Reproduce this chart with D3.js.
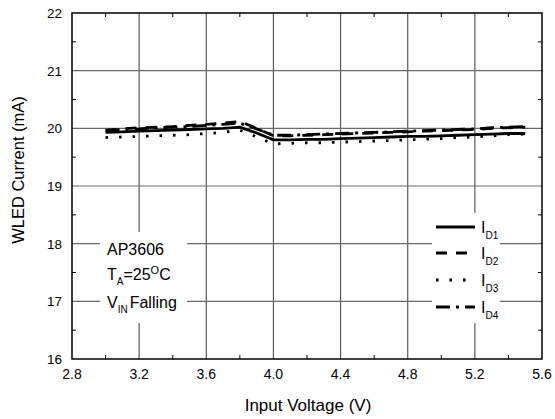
<!DOCTYPE html>
<html>
<head>
<meta charset="utf-8">
<script src="https://cdn.jsdelivr.net/npm/d3@7"></script>
<style>
  body { margin: 0; background: #fff; }
  text { font-family: "Liberation Sans", Arial, sans-serif; }
</style>
</head>
<body>
<div id="chart"></div>
<script>
// data
var vin = [3.0, 3.1, 3.2, 3.3, 3.4, 3.5, 3.6, 3.7, 3.8, 3.9, 4.0, 4.1, 4.2,
           4.3, 4.4, 4.5, 4.6, 4.7, 4.8, 4.9, 5.0, 5.1, 5.2, 5.3, 5.4, 5.5];
var id1 = [19.93, 19.94, 19.95, 19.96, 19.97, 19.98, 19.99, 20.00, 20.02, 19.92, 19.80, 19.80, 19.81,
           19.81, 19.82, 19.83, 19.84, 19.85, 19.86, 19.86, 19.87, 19.88, 19.89, 19.90, 19.91, 19.91];
var id2 = [19.97, 19.99, 20.01, 20.02, 20.03, 20.05, 20.07, 20.09, 20.12, 20.00, 19.87, 19.87, 19.88,
           19.89, 19.90, 19.91, 19.92, 19.93, 19.94, 19.95, 19.96, 19.97, 19.98, 20.00, 20.01, 20.02];
var id3 = [19.84, 19.85, 19.86, 19.87, 19.88, 19.89, 19.91, 19.93, 19.97, 19.85, 19.73, 19.74, 19.75,
           19.75, 19.76, 19.77, 19.78, 19.79, 19.80, 19.81, 19.82, 19.84, 19.85, 19.87, 19.89, 19.90];
var id4 = [19.96, 19.98, 19.99, 20.01, 20.02, 20.03, 20.05, 20.07, 20.09, 19.99, 19.88, 19.88, 19.89,
           19.90, 19.91, 19.92, 19.93, 19.94, 19.95, 19.96, 19.97, 19.98, 19.99, 20.01, 20.02, 20.03];
var xTicks = [2.8, 3.2, 3.6, 4.0, 4.4, 4.8, 5.2, 5.6];
var yTicks = [16, 17, 18, 19, 20, 21, 22];
var seriesNames = ["D1", "D2", "D3", "D4"];
var dashes = ["none", "11,9", "2.5,11", "14,6,3,6"];

var width = 555, height = 419;
var plotLeft = 72, plotRight = 542, plotTop = 13, plotBottom = 359;

var svg = d3.select("#chart").append("svg")
    .attr("width", width)
    .attr("height", height);

var x = d3.scaleLinear().domain([2.8, 5.6]).range([plotLeft, plotRight]);
var y = d3.scaleLinear().domain([16, 22]).range([plotBottom, plotTop]);

// grid
svg.append("g").selectAll("line").data(xTicks.slice(1, -1)).enter().append("line")
    .attr("x1", d => x(d)).attr("x2", d => x(d))
    .attr("y1", plotTop).attr("y2", plotBottom)
    .attr("stroke", "#5a5a5a").attr("stroke-width", 1.2);
svg.append("g").selectAll("line").data(yTicks.slice(1, -1)).enter().append("line")
    .attr("x1", plotLeft).attr("x2", plotRight)
    .attr("y1", d => y(d)).attr("y2", d => y(d))
    .attr("stroke", "#6a6a6a").attr("stroke-width", 1.2);

// minor ticks inside the frame
var xMinor = d3.range(3.0, 5.6, 0.4);
var yMinor = d3.range(16.5, 22, 1);
var minor = svg.append("g").attr("stroke", "#000").attr("stroke-width", 1);
xMinor.forEach(function (d) {
    minor.append("line").attr("x1", x(d)).attr("x2", x(d)).attr("y1", plotBottom).attr("y2", plotBottom - 4);
    minor.append("line").attr("x1", x(d)).attr("x2", x(d)).attr("y1", plotTop).attr("y2", plotTop + 4);
});
yMinor.forEach(function (d) {
    minor.append("line").attr("x1", plotLeft).attr("x2", plotLeft + 4).attr("y1", y(d)).attr("y2", y(d));
    minor.append("line").attr("x1", plotRight).attr("x2", plotRight - 4).attr("y1", y(d)).attr("y2", y(d));
});

// frame
svg.append("rect")
    .attr("x", plotLeft).attr("y", plotTop)
    .attr("width", plotRight - plotLeft).attr("height", plotBottom - plotTop)
    .attr("fill", "none").attr("stroke", "#000").attr("stroke-width", 1.5);

// tick labels
svg.append("g").selectAll("text").data(xTicks).enter().append("text")
    .attr("x", d => x(d)).attr("y", 379)
    .attr("text-anchor", "middle").attr("font-size", 14)
    .text(d => d.toFixed(1));
svg.append("g").selectAll("text").data(yTicks).enter().append("text")
    .attr("x", 62).attr("y", d => y(d) + 5)
    .attr("text-anchor", "end").attr("font-size", 13.5)
    .text(d => d);

// axis titles
svg.append("text")
    .attr("x", (plotLeft + plotRight) / 2 + 1).attr("y", 411)
    .attr("text-anchor", "middle").attr("font-size", 17)
    .text("Input Voltage (V)");
svg.append("text")
    .attr("transform", "translate(24,170) rotate(-90)")
    .attr("text-anchor", "middle").attr("font-size", 16.5)
    .text("WLED Current (mA)");

// data lines
var line = d3.line()
    .x((d, i) => x(vin[i]))
    .y(d => y(d));
[id1, id2, id3, id4].forEach(function (s, k) {
    svg.append("path")
        .attr("d", line(s))
        .attr("fill", "none")
        .attr("stroke", "#000")
        .attr("stroke-width", 2.8)
        .attr("stroke-dasharray", dashes[k]);
});

// condition box
svg.append("rect").attr("x", 100).attr("y", 232).attr("width", 87).attr("height", 91).attr("fill", "#fff");
var info = svg.append("g").attr("font-size", 16);
info.append("text").attr("x", 107).attr("y", 255).text("AP3606");
var t2 = info.append("text").attr("x", 107).attr("y", 280);
t2.append("tspan").text("T");
t2.append("tspan").attr("font-size", 10).attr("dy", 5).text("A");
t2.append("tspan").attr("dy", -5).text("=25");
t2.append("tspan").attr("font-size", 11).attr("dy", -6).text("O");
t2.append("tspan").attr("dy", 6).text("C");
var t3 = info.append("text").attr("x", 107).attr("y", 308);
t3.append("tspan").text("V");
t3.append("tspan").attr("font-size", 10).attr("dy", 5).text("IN");
t3.append("tspan").attr("dy", -5).attr("dx", 2).text("Falling");

// legend
svg.append("rect").attr("x", 432).attr("y", 213).attr("width", 68).attr("height", 110).attr("fill", "#fff");
var legY = [227, 253, 280, 307];
seriesNames.forEach(function (n, k) {
    svg.append("line")
        .attr("x1", 436).attr("x2", 475)
        .attr("y1", legY[k]).attr("y2", legY[k])
        .attr("stroke", "#000").attr("stroke-width", 2.8)
        .attr("stroke-dasharray", dashes[k]);
    var t = svg.append("text").attr("x", 481).attr("y", legY[k] + 6).attr("font-size", 16);
    t.append("tspan").text("I");
    t.append("tspan").attr("font-size", 10).attr("dy", 6).text(n);
});
</script>
</body>
</html>
